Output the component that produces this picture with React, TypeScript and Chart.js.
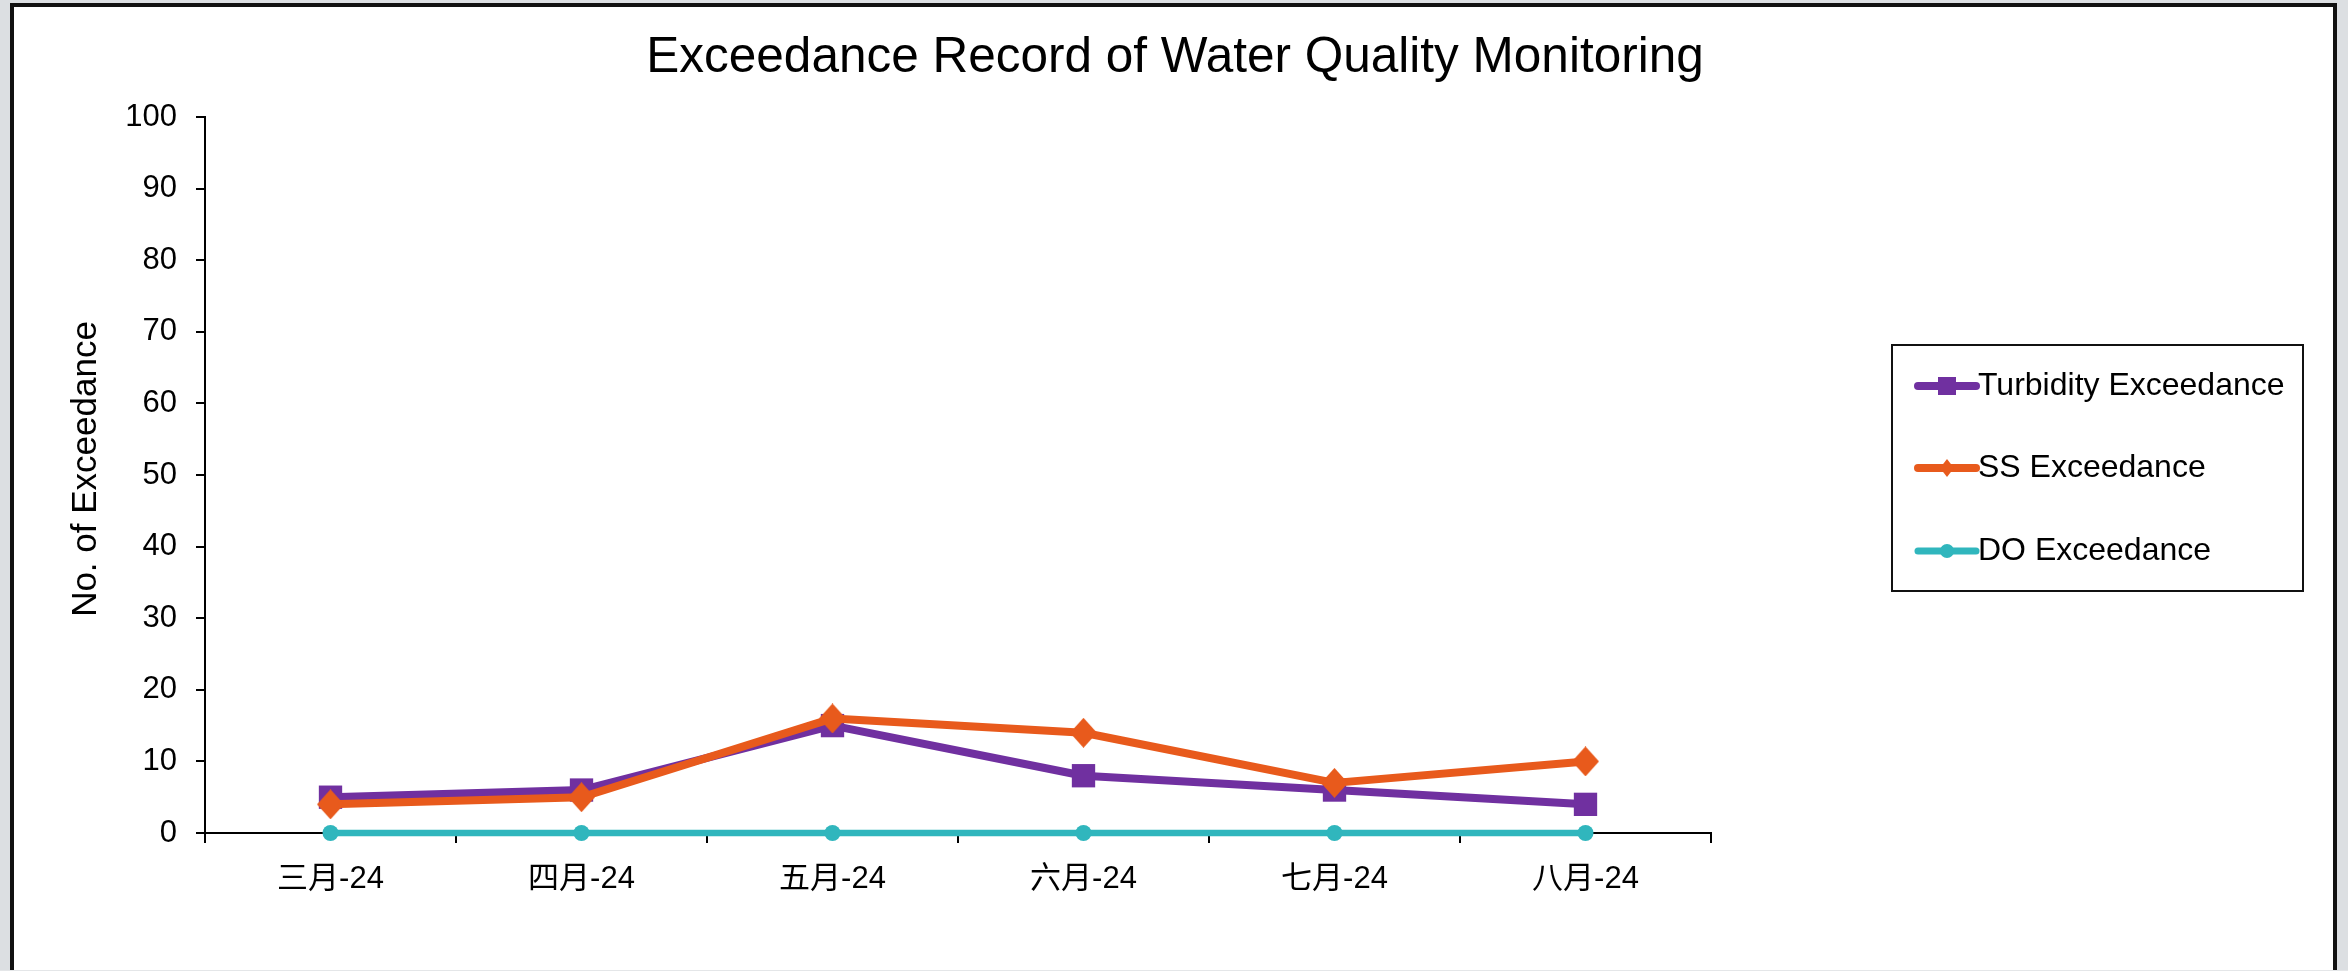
import React, { useEffect, useRef } from "react";
import { Chart, registerables } from "chart.js";

Chart.register(...registerables);

// ---- data ----
const months = ["三月-24", "四月-24", "五月-24", "六月-24", "七月-24", "八月-24"];
const turbidity = [5, 6, 15, 8, 6, 4];
const suspendedSolids = [4, 5, 16, 14, 7, 10];
const dissolvedOxygen = [0, 0, 0, 0, 0, 0];
const seriesNames = ["Turbidity Exceedance", "SS Exceedance", "DO Exceedance"];
const seriesColors = ["#7030A0", "#E85A1C", "#30B6BD"];
const chartTitle = "Exceedance Record of Water Quality Monitoring";
const yAxisTitle = "No. of Exceedance";
const yMin = 0;
const yMax = 100;
const yStep = 10;

const FONT = "'Liberation Sans', Arial, 'Noto Sans CJK SC', sans-serif";
const W = 2348;
const H = 971;

function makeDiamond(w: number, h: number, color: string): HTMLCanvasElement {
  const c = document.createElement("canvas");
  c.width = w;
  c.height = h;
  const g = c.getContext("2d")!;
  g.fillStyle = color;
  g.beginPath();
  g.moveTo(w / 2, 0);
  g.lineTo(w, h / 2);
  g.lineTo(w / 2, h);
  g.lineTo(0, h / 2);
  g.closePath();
  g.fill();
  return c;
}

const overlayPlugin = {
  id: "overlay",
  afterDraw(chart: any) {
    const ctx: CanvasRenderingContext2D = chart.ctx;
    ctx.save();
    // title
    ctx.fillStyle = "#000";
    ctx.font = `49.5px ${FONT}`;
    ctx.textAlign = "center";
    ctx.textBaseline = "alphabetic";
    ctx.fillText(chartTitle, 1175, 72);

    // y axis title
    ctx.save();
    ctx.translate(86, 469);
    ctx.rotate(-Math.PI / 2);
    ctx.font = `35px ${FONT}`;
    ctx.textAlign = "center";
    ctx.textBaseline = "middle";
    ctx.fillText(yAxisTitle, 0, 0);
    ctx.restore();

    // legend box
    const bx = 1892, by = 345, bw = 411, bh = 246;
    ctx.lineWidth = 2;
    ctx.strokeStyle = "#111";
    ctx.strokeRect(bx, by, bw, bh);
    const rows = [386, 468, 551];
    const lx1 = 1918, lx2 = 1976, mx = 1947;
    seriesNames.forEach((name, i) => {
      const y = rows[i];
      ctx.strokeStyle = seriesColors[i];
      ctx.lineWidth = i === 2 ? 7 : 8;
      ctx.lineCap = "round";
      ctx.beginPath();
      ctx.moveTo(lx1, y);
      ctx.lineTo(lx2, y);
      ctx.stroke();
      ctx.fillStyle = seriesColors[i];
      if (i === 0) {
        ctx.fillRect(mx - 9, y - 9, 18, 18);
      } else if (i === 1) {
        ctx.beginPath();
        ctx.moveTo(mx, y - 9);
        ctx.lineTo(mx + 7, y);
        ctx.lineTo(mx, y + 9);
        ctx.lineTo(mx - 7, y);
        ctx.closePath();
        ctx.fill();
      } else {
        ctx.beginPath();
        ctx.arc(mx, y, 7, 0, Math.PI * 2);
        ctx.fill();
      }
      ctx.fillStyle = "#000";
      ctx.font = `32px ${FONT}`;
      ctx.textAlign = "left";
      ctx.textBaseline = "middle";
      ctx.fillText(name, 1978, y);
    });
    ctx.restore();
  },
};

export default function App() {
  const ref = useRef<HTMLCanvasElement | null>(null);

  useEffect(() => {
    document.body.style.margin = "0";
    const canvas = ref.current!;
    const diamond = makeDiamond(27, 30, seriesColors[1]);
    const chart = new Chart(canvas, {
      type: "line",
      data: {
        labels: months,
        datasets: [
          {
            label: seriesNames[0],
            data: turbidity,
            borderColor: seriesColors[0],
            backgroundColor: seriesColors[0],
            borderWidth: 8,
            pointStyle: "rect",
            pointRadius: 16.5,
            pointBorderWidth: 0,
            pointBackgroundColor: seriesColors[0],
            tension: 0,
            borderJoinStyle: "round",
            borderCapStyle: "round",
            clip: false,
            order: 2,
          },
          {
            label: seriesNames[1],
            data: suspendedSolids,
            borderColor: seriesColors[1],
            backgroundColor: seriesColors[1],
            borderWidth: 8,
            pointStyle: diamond as any,
            pointRadius: 14,
            pointBorderWidth: 0,
            tension: 0,
            borderJoinStyle: "round",
            borderCapStyle: "round",
            clip: false,
            order: 1,
          },
          {
            label: seriesNames[2],
            data: dissolvedOxygen,
            borderColor: seriesColors[2],
            backgroundColor: seriesColors[2],
            borderWidth: 6.5,
            pointStyle: "circle",
            pointRadius: 8,
            pointBorderWidth: 0,
            tension: 0,
            borderCapStyle: "round",
            clip: false,
            order: 0,
          },
        ],
      },
      options: {
        responsive: false,
        animation: false,
        devicePixelRatio: 1,
        layout: { padding: { left: 0, right: W - 1711, top: 117, bottom: 0 } },
        plugins: {
          legend: { display: false },
          title: { display: false },
          tooltip: { enabled: false },
        },
        scales: {
          x: {
            type: "category",
            offset: true,
            afterFit: (s: any) => {
              s.height = H - 833;
            },
            border: { display: true, color: "#000", width: 2 },
            grid: {
              display: true,
              offset: true,
              drawOnChartArea: false,
              drawTicks: true,
              tickLength: 10,
              color: "#000",
              lineWidth: 2,
            },
            ticks: {
              color: "#000",
              font: { size: 31, family: FONT },
              padding: 18,
              maxRotation: 0,
              autoSkip: false,
            },
          },
          y: {
            min: yMin,
            max: yMax,
            afterFit: (s: any) => {
              s.width = 205;
            },
            border: { display: true, color: "#000", width: 2 },
            grid: {
              display: true,
              drawOnChartArea: false,
              drawTicks: true,
              tickLength: 9,
              color: "#000",
              lineWidth: 2,
            },
            ticks: {
              stepSize: yStep,
              color: "#000",
              font: { size: 31, family: FONT },
              padding: 19,
            },
            title: { display: false },
          },
        },
      },
      plugins: [overlayPlugin],
    } as any);
    return () => chart.destroy();
  }, []);

  return (
    <div
      style={{
        position: "fixed",
        left: 0,
        top: 0,
        width: W,
        height: H,
        overflow: "hidden",
        background: "#dcdfe2",
      }}
    >
      <div
        style={{
          position: "absolute",
          left: 10,
          top: 3,
          width: 2337 - 10,
          height: 980,
          boxSizing: "border-box",
          background: "#fff",
          border: "4px solid #111",
          borderBottom: "none",
        }}
      />
      <div
        style={{
          position: "absolute",
          left: 0,
          top: 970,
          width: W,
          height: 1,
          background: "#e4e6e8",
        }}
      />
      <canvas
        ref={ref}
        width={W}
        height={H}
        style={{ position: "absolute", left: 0, top: 0, width: W, height: H }}
      />
    </div>
  );
}
